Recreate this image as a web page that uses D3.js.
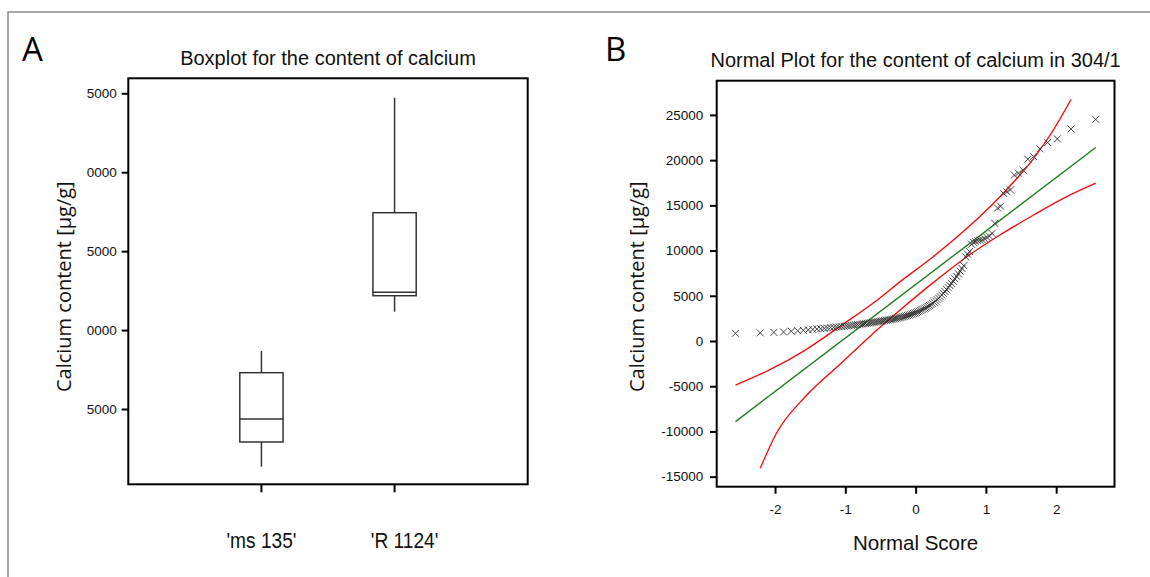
<!DOCTYPE html>
<html>
<head>
<meta charset="utf-8">
<script src="https://cdn.jsdelivr.net/npm/d3@7"></script>
<style>
  html, body { margin: 0; padding: 0; background: #fff; }
  svg { display: block; }
</style>
</head>
<body>
<svg id="chart" width="1150" height="577"></svg>
<script>
// ---------- Panel A data (boxplot) ----------
const categoriesA = ["'ms 135'", "'R 1124'"];
const minA    = [1345, 11164];
const q1A     = [2910, 12177];
const medianA = [4367, 12393];
const q3A     = [7300, 17435];
const maxA    = [8674, 24720];
const yTicksA = [5000, 10000, 15000, 20000, 25000];
const yTickLabelsA = ["5000", "0000", "5000", "0000", "5000"];

// ---------- Panel B data (normal plot) ----------
const scoresB = [
-2.563,-2.211,-2.017,-1.879,-1.769,-1.677,-1.597,-1.527,-1.463,-1.405,
-1.350,-1.300,-1.254,-1.210,-1.167,-1.127,-1.088,-1.051,-1.016,-0.981,
-0.948,-0.916,-0.885,-0.854,-0.825,-0.796,-0.767,-0.740,-0.713,-0.686,
-0.660,-0.634,-0.609,-0.584,-0.559,-0.535,-0.511,-0.488,-0.464,-0.441,
-0.418,-0.396,-0.373,-0.351,-0.329,-0.307,-0.285,-0.264,-0.242,-0.221,
-0.200,-0.178,-0.157,-0.136,-0.115,-0.094,-0.073,-0.052,-0.031,-0.010,
0.010,0.031,0.052,0.073,0.094,0.115,0.136,0.157,0.178,0.200,
0.221,0.242,0.264,0.285,0.307,0.329,0.351,0.373,0.396,0.418,
0.441,0.464,0.488,0.511,0.535,0.559,0.584,0.609,0.634,0.660,
0.686,0.713,0.740,0.767,0.796,0.825,0.854,0.885,0.916,0.948,
0.981,1.016,1.051,1.088,1.127,1.167,1.210,1.254,1.300,1.350,
1.405,1.463,1.527,1.597,1.677,1.769,1.879,2.017,2.211,2.563];
const valuesB = [
850,900,950,1000,1080,1130,1180,1230,1280,1320,
1360,1400,1440,1480,1510,1540,1570,1600,1630,1660,
1690,1720,1750,1780,1810,1840,1870,1900,1930,1960,
1990,2020,2050,2080,2110,2140,2170,2200,2230,2260,
2290,2320,2350,2380,2410,2440,2480,2520,2560,2600,
2640,2680,2720,2770,2820,2870,2920,2980,3040,3100,
3160,3230,3300,3380,3460,3540,3630,3720,3820,3920,
4030,4150,4280,4420,4570,4730,4900,5080,5270,5470,
5680,5900,6130,6370,6620,6880,7150,7430,7720,8020,
8330,9300,9600,9900,10700,10900,11000,11100,11150,11200,
11300,11450,11600,11900,13000,14700,14900,16300,16500,16700,
18350,18550,18900,20100,20400,21250,21950,22350,23450,24500];

const fitScores = [-2.563, 2.563];
const fitValues = [-8920, 21400];

const upperScores = [-2.563, -2.08, -1.57, -1.06, -0.55, -0.22, 0.25, 0.73, 1.2, 1.68, 1.96, 2.211];
const upperValues = [-4870, -3200, -1000, 1700, 4500, 6560, 9320, 12460, 15960, 20200, 23330, 26700];
const lowerScores = [-2.211, -1.98, -1.57, -1.06, -0.55, -0.22, 0.25, 0.73, 1.2, 1.68, 2.15, 2.563];
const lowerValues = [-14080, -10200, -6160, -2470, 1220, 3430, 6450, 9320, 11720, 13930, 15960, 17450];

const yTicksB = [-15000, -10000, -5000, 0, 5000, 10000, 15000, 20000, 25000];
const yTickLabelsB = ["-15000", "-10000", "-5000", "0", "5000", "10000", "15000", "20000", "25000"];
const xTicksB = [-2, -1, 0, 1, 2];
const xTickLabelsB = ["-2", "-1", "0", "1", "2"];

// ---------- Drawing ----------
const svg = d3.select("#chart");
const ARIAL = "'Liberation Sans', Arial, sans-serif";
const SEGOE = "'Open Sans', 'Noto Sans', sans-serif";

// outer border (only left and top visible)
svg.append("rect").attr("x", 8).attr("y", 12).attr("width", 1160).attr("height", 600)
  .attr("fill", "none").attr("stroke", "#8a8a8a").attr("stroke-width", 1.5);

// panel letters
svg.append("text").attr("x", 22).attr("y", 61).text("A")
  .attr("font-family", SEGOE).attr("font-size", 33).attr("fill", "#000");
svg.append("text").attr("x", 605).attr("y", 61).text("B")
  .attr("font-family", SEGOE).attr("font-size", 33).attr("fill", "#000");

// ===== Panel A =====
const A = { l: 128.3, t: 78.3, r: 527.7, b: 484.3 };
const xA = d3.scalePoint().domain(categoriesA).range([A.l, A.r]).padding(1);
const yA = d3.scaleLinear().domain([230, 25950]).range([A.b, A.t]);
const gA = svg.append("g");

gA.append("text").attr("x", (A.l + A.r) / 2).attr("y", 65).attr("text-anchor", "middle")
  .attr("font-family", ARIAL).attr("font-size", 20).attr("fill", "#111")
  .text("Boxplot for the content of calcium");

// y axis A
const axA = gA.append("g").attr("transform", `translate(${A.l},0)`)
  .call(d3.axisLeft(yA).tickValues(yTicksA).tickFormat((d, i) => yTickLabelsA[i]).tickSize(6.6).tickPadding(5));
axA.select(".domain").remove();
axA.selectAll(".tick line").attr("stroke", "#000").attr("stroke-width", 2);
axA.selectAll(".tick text").attr("font-family", ARIAL).attr("font-size", 13.5).attr("fill", "#111");

// x ticks A
const boxW = xA.step() * 0.325;
gA.selectAll(".xtickA").data(categoriesA).enter().append("line")
  .attr("x1", d => xA(d)).attr("x2", d => xA(d)).attr("y1", A.b).attr("y2", A.b + 8)
  .attr("stroke", "#000").attr("stroke-width", 2);
const catDx = [0, 10];
gA.selectAll(".xlabA").data(categoriesA).enter().append("text")
  .attr("transform", (d, i) => `translate(${xA(d) + catDx[i]},548.3) scale(0.87,1)`)
  .attr("text-anchor", "middle").attr("font-family", ARIAL).attr("font-size", 22).attr("fill", "#111")
  .text(d => d);

// boxes
categoriesA.forEach((c, i) => {
  const cx = xA(c);
  const g = gA.append("g").attr("stroke", "#333").attr("stroke-width", 1.5).attr("fill", "none");
  g.append("line").attr("x1", cx).attr("x2", cx).attr("y1", yA(maxA[i])).attr("y2", yA(q3A[i]));
  g.append("line").attr("x1", cx).attr("x2", cx).attr("y1", yA(q1A[i])).attr("y2", yA(minA[i]));
  g.append("rect").attr("x", cx - boxW / 2).attr("width", boxW)
    .attr("y", yA(q3A[i])).attr("height", yA(q1A[i]) - yA(q3A[i])).attr("fill", "#fff");
  g.append("line").attr("x1", cx - boxW / 2).attr("x2", cx + boxW / 2)
    .attr("y1", yA(medianA[i])).attr("y2", yA(medianA[i]));
});

gA.append("rect").attr("x", A.l).attr("y", A.t).attr("width", A.r - A.l).attr("height", A.b - A.t)
  .attr("fill", "none").attr("stroke", "#000").attr("stroke-width", 2);

gA.append("text").attr("transform", `translate(71.3,286.7) rotate(-90)`).attr("text-anchor", "middle")
  .attr("font-family", SEGOE).attr("font-size", 20).attr("fill", "#111")
  .text("Calcium content [µg/g]");

// ===== Panel B =====
const B = { l: 716.7, t: 80.7, r: 1114.5, b: 486.7 };
const xB = d3.scaleLinear().domain([-2.83, 2.83]).range([B.l, B.r]);
const yB = d3.scaleLinear().domain([-16110, 28781]).range([B.b, B.t]);
const gB = svg.append("g");

gB.append("text").attr("x", (B.l + B.r) / 2).attr("y", 66.7).attr("text-anchor", "middle")
  .attr("font-family", ARIAL).attr("font-size", 20).attr("fill", "#111")
  .text("Normal Plot for the content of calcium in 304/1");

const axBy = gB.append("g").attr("transform", `translate(${B.l},0)`)
  .call(d3.axisLeft(yB).tickValues(yTicksB).tickFormat((d, i) => yTickLabelsB[i]).tickSize(6.7).tickPadding(6.7));
axBy.select(".domain").remove();
axBy.selectAll(".tick line").attr("stroke", "#000").attr("stroke-width", 2);
axBy.selectAll(".tick text").attr("font-family", ARIAL).attr("font-size", 13.5).attr("fill", "#111");

const axBx = gB.append("g").attr("transform", `translate(0,${B.b})`)
  .call(d3.axisBottom(xB).tickValues(xTicksB).tickFormat((d, i) => xTickLabelsB[i]).tickSize(7).tickPadding(10.5));
axBx.select(".domain").remove();
axBx.selectAll(".tick line").attr("stroke", "#000").attr("stroke-width", 2);
axBx.selectAll(".tick text").attr("font-family", ARIAL).attr("font-size", 13.5).attr("fill", "#111");

const clipB = gB.append("clipPath").attr("id", "clipB").append("rect")
  .attr("x", B.l).attr("y", B.t).attr("width", B.r - B.l).attr("height", B.b - B.t);
const plotB = gB.append("g").attr("clip-path", "url(#clipB)");

const line = d3.line().curve(d3.curveMonotoneX);
plotB.append("path")
  .attr("d", line(fitScores.map((s, i) => [xB(s), yB(fitValues[i])])))
  .attr("fill", "none").attr("stroke", "#1f7a1f").attr("stroke-width", 1.4);
plotB.append("path")
  .attr("d", line(upperScores.map((s, i) => [xB(s), yB(upperValues[i])])))
  .attr("fill", "none").attr("stroke", "#f01010").attr("stroke-width", 1.4);
plotB.append("path")
  .attr("d", line(lowerScores.map((s, i) => [xB(s), yB(lowerValues[i])])))
  .attr("fill", "none").attr("stroke", "#f01010").attr("stroke-width", 1.4);

const m = 3.5;
plotB.selectAll(".pt").data(scoresB).enter().append("path")
  .attr("d", (s, i) => {
    const px = xB(s), py = yB(valuesB[i]);
    return `M${px - m},${py - m}L${px + m},${py + m}M${px - m},${py + m}L${px + m},${py - m}`;
  })
  .attr("stroke", "#333").attr("stroke-width", 0.9).attr("fill", "none");

gB.append("rect").attr("x", B.l).attr("y", B.t).attr("width", B.r - B.l).attr("height", B.b - B.t)
  .attr("fill", "none").attr("stroke", "#000").attr("stroke-width", 2);

gB.append("text").attr("transform", `translate(643.5,286.7) rotate(-90)`).attr("text-anchor", "middle")
  .attr("font-family", SEGOE).attr("font-size", 20).attr("fill", "#111")
  .text("Calcium content [µg/g]");

gB.append("text").attr("x", (B.l + B.r) / 2).attr("y", 550).attr("text-anchor", "middle")
  .attr("font-family", ARIAL).attr("font-size", 20.5).attr("fill", "#111")
  .text("Normal Score");
</script>
</body>
</html>
